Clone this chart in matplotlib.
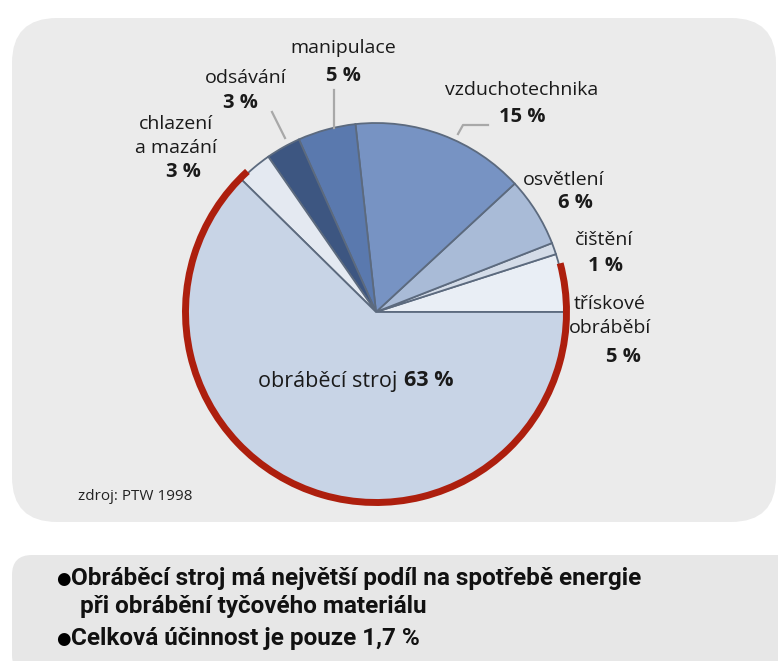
import numpy as np
import matplotlib
matplotlib.use("Agg")
import matplotlib.pyplot as plt
from matplotlib.patches import FancyBboxPatch, Arc

# slices, counter-clockwise from 3 o'clock
labels = ["třískové\nobráběbí", "čištění", "osvětlení", "vzduchotechnika",
          "manipulace", "odsávání", "chlazení\na mazání", "obráběcí stroj"]
values = [5, 1, 6, 15, 5, 3, 3, 63]
colors = ["#e9eef5", "#d4dce8", "#a9bbd7", "#7793c3",
          "#5a79ae", "#3d5681", "#e4e9f1", "#c8d4e6"]

bullet_lines = ["Obráběcí stroj má největší podíl na spotřebě energie",
                "při obrábění tyčového materiálu",
                "Celková účinnost je pouze 1,7 %"]
source = "zdroj: PTW 1998"

W, H = 778, 661
fig = plt.figure(figsize=(W / 100, H / 100), dpi=100)
ax = fig.add_axes([0, 0, 1, 1])

def py(y):
    # pixel row (from top) -> data y
    return H - y

# background panels
ax.add_patch(FancyBboxPatch((12, py(522)), 764, 504, boxstyle="round,pad=0,rounding_size=45",
                            fc="#ebebeb", ec="none", zorder=0))
ax.add_patch(FancyBboxPatch((12, py(675)), 790, 120, boxstyle="round,pad=0,rounding_size=20",
                            fc="#e7e7e7", ec="none", zorder=0))

cx, cy, r = 376, py(312), 189
wedges, _ = ax.pie(values, colors=colors, startangle=0, counterclock=True,
                   center=(cx, cy), radius=r, frame=True,
                   wedgeprops=dict(edgecolor="#5c6a7e", linewidth=1.3))
ax.set_xlim(0, W)
ax.set_ylim(0, H)
ax.set_aspect("equal")
ax.axis("off")

# red outline around the machine tool part
t1 = wedges[-1].theta1 - 3
t2 = wedges[0].theta2 - 3 + 360
ax.add_patch(Arc((cx, cy), 2 * r + 3, 2 * r + 3, theta1=t1, theta2=t2,
                 color="#ad1f0e", lw=5, zorder=5))

lab_font = dict(family=["Open Sans", "DejaVu Sans"], fontsize=14, color="#1a1a1a")
bold_font = dict(lab_font, fontweight="bold", fontsize=14.5)

# label positions (pixel coords) for name and percent
pos = [((610, 316), (623, 357)),
       ((604, 240), (606, 266)),
       ((564, 180), (575, 203)),
       ((522, 90), (522, 117)),
       ((343, 48), (343, 76)),
       ((246, 78), (240, 103)),
       ((176, 136), (183, 172))]
for lab, v, (p1, p2) in zip(labels[:-1], values[:-1], pos):
    ax.text(p1[0], py(p1[1]), lab, ha="center", va="center", linespacing=1.45, **lab_font)
    ax.text(p2[0], py(p2[1]), f"{v} %", ha="center", va="center", **bold_font)

ax.text(397, py(381), labels[-1], ha="right", va="center", **dict(lab_font, fontsize=15.5))
ax.text(404, py(381), f"{values[-1]} %", ha="left", va="center", **dict(bold_font, fontsize=15.5))

# leader lines
lc = dict(color="#a8a8a8", lw=1.6, zorder=6)
ax.plot([334, 334], [py(90), py(128)], **lc)
ax.plot([272, 285], [py(112), py(138)], **lc)
ax.plot([458, 463, 488], [py(134), py(125), py(125)], **lc)

ax.text(78, py(497), source, ha="left", va="center",
        family=["Open Sans", "DejaVu Sans"], fontsize=11, color="#222222")

bfont = dict(family=["Roboto", "DejaVu Sans"], fontsize=17.5,
             fontweight="bold", color="#111111")
ax.text(56, py(579), "●", ha="left", va="center", family="DejaVu Sans", fontsize=12)
ax.text(71, py(579), bullet_lines[0], ha="left", va="center", **bfont)
ax.text(80, py(606), bullet_lines[1], ha="left", va="center", **bfont)
ax.text(56, py(639), "●", ha="left", va="center", family="DejaVu Sans", fontsize=12)
ax.text(71, py(639), bullet_lines[2], ha="left", va="center", **bfont)

fig.savefig("out.png", dpi=100, facecolor="white")
